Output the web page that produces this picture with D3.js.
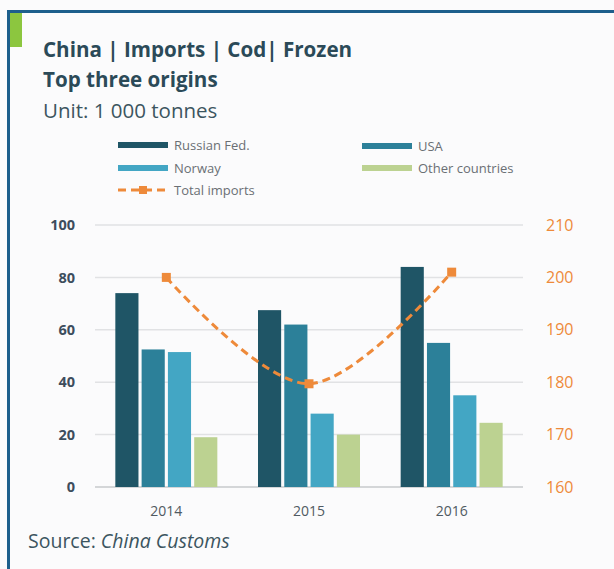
<!DOCTYPE html>
<html>
<head>
<meta charset="utf-8">
<script src="https://cdn.jsdelivr.net/npm/d3@7/dist/d3.min.js"></script>
<style>
  html, body { margin: 0; padding: 0; background: #fbfbfc; }
  svg { display: block; }
</style>
</head>
<body>
<script>
// Chinese imports of frozen cod, by origin (1 000 tonnes)
const years = ["2014", "2015", "2016"];
const seriesNames = ["Russian Fed.", "USA", "Norway", "Other countries"];
const russia = [74, 67.5, 84];
const usa = [52.5, 62, 55];
const norway = [51.5, 28, 35];
const others = [19, 20, 24.5];
const totalImports = [200, 179.7, 201];
const leftTicks = [0, 20, 40, 60, 80, 100];
const rightTicks = [160, 170, 180, 190, 200, 210];

const colors = ["#1f5566", "#2c8099", "#43a6c4", "#bcd291"];
const orange = "#ee8a3a";

const W = 614, H = 569;
const svg = d3.select("body").append("svg").attr("width", W).attr("height", H);

// Frame: background, blue rule on top and left, green tab
svg.append("rect").attr("width", W).attr("height", H).attr("fill", "#fbfbfc");
svg.append("rect").attr("x", 7).attr("y", 10).attr("width", W - 7).attr("height", 3).attr("fill", "#1d5f8c");
svg.append("rect").attr("x", 7).attr("y", 10).attr("width", 3).attr("height", H - 10).attr("fill", "#1d5f8c");
svg.append("rect").attr("x", 10).attr("y", 13).attr("width", 12).attr("height", 34).attr("fill", "#8cc63f");

// Titles
const titleColor = "#2b4a58";
svg.append("text").attr("x", 43).attr("y", 57)
  .attr("font-family", "'Open Sans', sans-serif").attr("font-weight", "bold")
  .attr("font-size", 20.6).attr("fill", titleColor).text("China | Imports | Cod| Frozen");
svg.append("text").attr("x", 43).attr("y", 87)
  .attr("font-family", "'Open Sans', sans-serif").attr("font-weight", "bold")
  .attr("font-size", 20.6).attr("fill", titleColor).text("Top three origins");
svg.append("text").attr("x", 43).attr("y", 118)
  .attr("font-family", "'Open Sans', sans-serif")
  .attr("font-size", 20.5).attr("fill", "#3c5560").text("Unit: 1 000 tonnes");

// Scales
const plotLeft = 95, plotRight = 523, yTop = 225, yBottom = 487;
const x = d3.scaleBand().domain(years).range([plotLeft, plotRight]).paddingInner(0).paddingOuter(0);
const xInner = d3.scaleBand().domain(seriesNames).range([0, 102]).paddingInner(0.12);
const yL = d3.scaleLinear().domain([0, 100]).range([yBottom, yTop]);
const yR = d3.scaleLinear().domain([160, 210]).range([yBottom, yTop]);

// Gridlines
svg.append("g").selectAll("line").data(leftTicks).join("line")
  .attr("x1", plotLeft).attr("x2", plotRight)
  .attr("y1", d => yL(d)).attr("y2", d => yL(d))
  .attr("stroke", d => d === 0 ? "#d4d6d8" : "#e1e2e4")
  .attr("stroke-width", d => d === 0 ? 2 : 1.5);

// Left axis
const axisL = svg.append("g").attr("transform", `translate(75,0)`)
  .call(d3.axisLeft(yL).tickValues(leftTicks).tickSize(0).tickPadding(0));
axisL.select(".domain").remove();
axisL.selectAll("text").attr("font-family", "'Open Sans', sans-serif").attr("font-weight", "bold")
  .attr("font-size", 14.5).attr("fill", "#3d4d5c");

// Right axis
const axisR = svg.append("g").attr("transform", `translate(546,0)`)
  .call(d3.axisRight(yR).tickValues(rightTicks).tickSize(0).tickPadding(0));
axisR.select(".domain").remove();
axisR.selectAll("text").attr("font-family", "'Open Sans', sans-serif")
  .attr("font-size", 16).attr("fill", orange);

// Bottom axis
const axisB = svg.append("g").attr("transform", `translate(0,${yBottom})`)
  .call(d3.axisBottom(x).tickSize(0).tickPadding(19));
axisB.select(".domain").remove();
axisB.selectAll("text").attr("font-family", "'Open Sans', sans-serif")
  .attr("font-size", 14).attr("fill", "#505a62");

// Bars
const seriesValues = [russia, usa, norway, others];
const barData = [];
years.forEach((yr, i) => seriesValues.forEach((vals, s) => barData.push({ yr, s, v: vals[i] })));
svg.append("g").selectAll("rect").data(barData).join("rect")
  .attr("x", d => x(d.yr) + x.bandwidth() / 2 - 51 + xInner(seriesNames[d.s]))
  .attr("width", xInner.bandwidth())
  .attr("y", d => yL(d.v))
  .attr("height", d => yL(0) - yL(d.v))
  .attr("fill", d => colors[d.s]);

// Total imports line (right axis)
const line = d3.line()
  .x((d, i) => x(years[i]) + x.bandwidth() / 2)
  .y(d => yR(d))
  .curve(d3.curveCatmullRom.alpha(0));
svg.append("path").datum(totalImports).attr("d", line)
  .attr("fill", "none").attr("stroke", orange).attr("stroke-width", 3)
  .attr("stroke-dasharray", "8,5");
svg.append("g").selectAll("rect").data(totalImports).join("rect")
  .attr("x", (d, i) => x(years[i]) + x.bandwidth() / 2 - 4.5)
  .attr("y", d => yR(d) - 4.5)
  .attr("width", 9).attr("height", 9).attr("fill", orange);

// Legend
const legendItems = [
  { name: "Russian Fed.", color: colors[0], x: 118, y: 145 },
  { name: "USA", color: colors[1], x: 362, y: 146 },
  { name: "Norway", color: colors[2], x: 118, y: 168 },
  { name: "Other countries", color: colors[3], x: 362, y: 168 }
];
const lg = svg.append("g");
legendItems.forEach(it => {
  lg.append("rect").attr("x", it.x).attr("y", it.y - 3).attr("width", 50).attr("height", 6).attr("fill", it.color);
  lg.append("text").attr("x", it.x + 56).attr("y", it.y).attr("dy", "0.35em")
    .attr("font-family", "'Open Sans', sans-serif").attr("font-size", 13).attr("fill", "#6a6f74")
    .text(it.name);
});
lg.append("line").attr("x1", 118).attr("x2", 168).attr("y1", 190).attr("y2", 190)
  .attr("stroke", orange).attr("stroke-width", 3).attr("stroke-dasharray", "8,5");
lg.append("rect").attr("x", 139).attr("y", 186).attr("width", 8).attr("height", 8).attr("fill", orange);
lg.append("text").attr("x", 174).attr("y", 190).attr("dy", "0.35em")
  .attr("font-family", "'Open Sans', sans-serif").attr("font-size", 13).attr("fill", "#6a6f74")
  .text("Total imports");

// Source line
const src = svg.append("text").attr("x", 28).attr("y", 548)
  .attr("font-family", "'Open Sans', sans-serif").attr("font-size", 19.5).attr("fill", "#3c5560");
src.append("tspan").text("Source: ");
src.append("tspan").attr("font-style", "italic").text("China Customs");
</script>
</body>
</html>
